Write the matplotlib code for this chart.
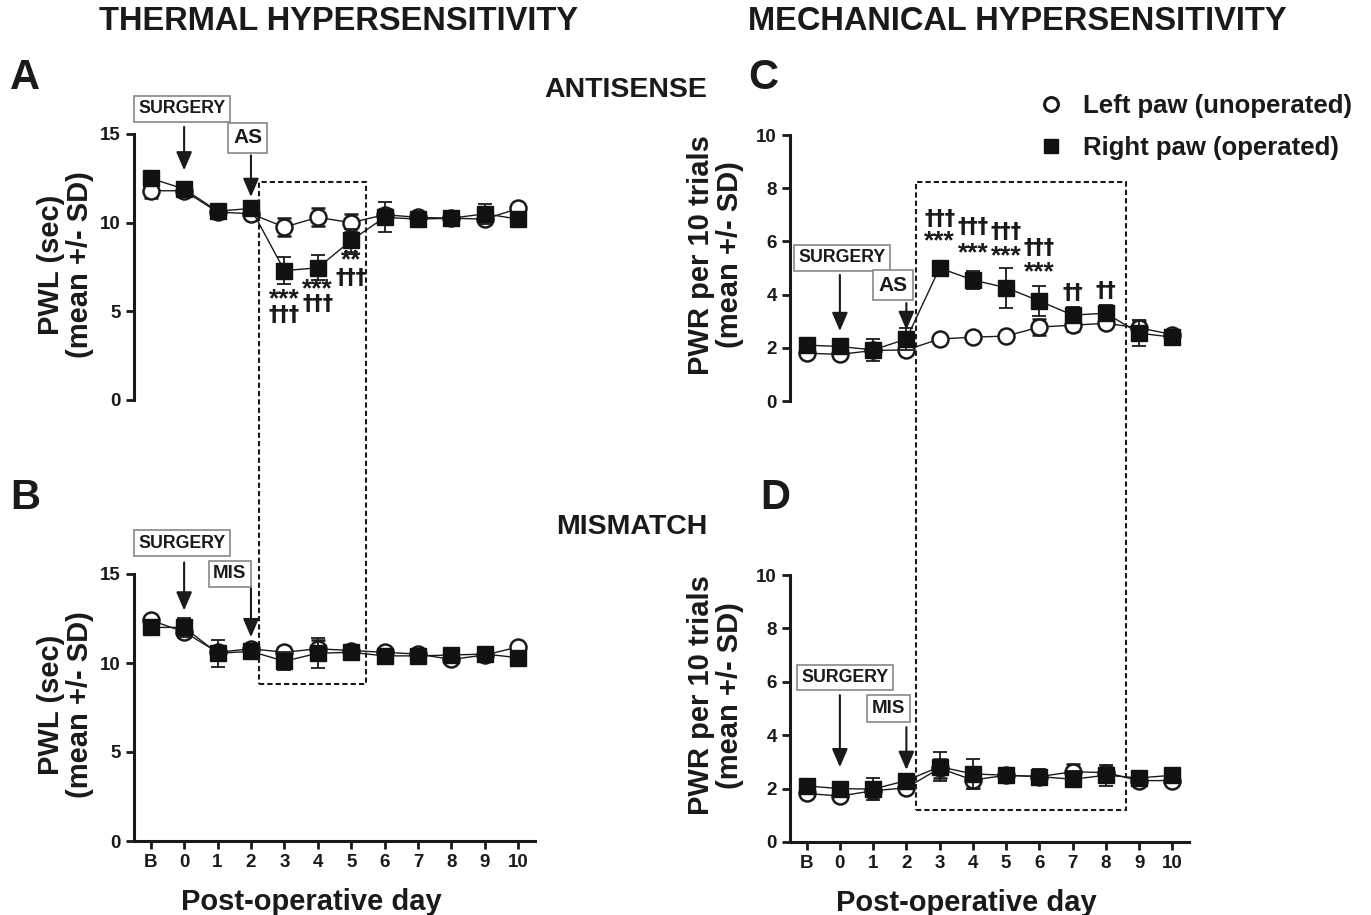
import matplotlib
matplotlib.use('Agg')
import matplotlib.pyplot as plt
from matplotlib.patches import Rectangle
from matplotlib.lines import Line2D
import numpy as np

plt.rcParams['font.family'] = ['Liberation Sans', 'DejaVu Sans']
plt.rcParams['font.weight'] = 'bold'

days = ['B', '0', '1', '2', '3', '4', '5', '6', '7', '8', '9', '10']

# Panel A - thermal, antisense
a_left = [11.8, 11.8, 10.6, 10.5, 9.75, 10.3, 10.0, 10.45, 10.3, 10.25, 10.2, 10.8]
a_left_sd = [0.4, 0.25, 0.2, 0.2, 0.5, 0.5, 0.5, 0.3, 0.3, 0.2, 0.3, 0.2]
a_right = [12.5, 11.9, 10.65, 10.8, 7.3, 7.45, 9.0, 10.3, 10.2, 10.25, 10.5, 10.2]
a_right_sd = [0.3, 0.3, 0.2, 0.3, 0.75, 0.7, 0.65, 0.85, 0.35, 0.2, 0.55, 0.2]

# Panel B - thermal, mismatch
b_left = [12.4, 11.75, 10.6, 10.8, 10.6, 10.8, 10.7, 10.6, 10.5, 10.2, 10.45, 10.9]
b_left_sd = [0.2, 0.3, 0.3, 0.2, 0.3, 0.5, 0.2, 0.2, 0.2, 0.2, 0.2, 0.2]
b_right = [12.0, 12.0, 10.55, 10.65, 10.1, 10.55, 10.6, 10.4, 10.4, 10.45, 10.5, 10.3]
b_right_sd = [0.3, 0.55, 0.75, 0.2, 0.5, 0.85, 0.2, 0.2, 0.2, 0.2, 0.2, 0.2]

# Panel C - mechanical, antisense
c_left = [1.8, 1.75, 1.9, 1.92, 2.33, 2.4, 2.44, 2.78, 2.85, 2.92, 2.75, 2.5]
c_left_sd = [0.1, 0.1, 0.1, 0.1, 0.1, 0.1, 0.1, 0.3, 0.2, 0.15, 0.25, 0.1]
c_right = [2.1, 2.05, 1.92, 2.33, 5.0, 4.55, 4.26, 3.76, 3.23, 3.3, 2.55, 2.4]
c_right_sd = [0.15, 0.15, 0.4, 0.4, 0.15, 0.35, 0.75, 0.55, 0.3, 0.3, 0.5, 0.15]

# Panel D - mechanical, mismatch
d_left = [1.82, 1.72, 1.92, 2.03, 2.76, 2.32, 2.5, 2.45, 2.63, 2.6, 2.3, 2.3]
d_left_sd = [0.1, 0.1, 0.1, 0.1, 0.35, 0.3, 0.15, 0.2, 0.3, 0.2, 0.15, 0.1]
d_right = [2.1, 2.0, 1.98, 2.3, 2.82, 2.55, 2.5, 2.45, 2.35, 2.5, 2.4, 2.5]
d_right_sd = [0.15, 0.15, 0.4, 0.2, 0.55, 0.55, 0.2, 0.3, 0.3, 0.4, 0.2, 0.15]

# significance marks: (day index, y, text)
a_marks = [(4, 5.7, '***'), (4, 4.8, '†††'), (5, 6.25, '***'), (5, 5.4, '†††'),
           (6, 7.85, '**'), (6, 6.9, '†††')]
c_marks = [(4, 6.85, '†††'), (4, 6.0, '***'), (5, 6.55, '†††'), (5, 5.55, '***'),
           (6, 6.35, '†††'), (6, 5.45, '***'), (7, 5.75, '†††'), (7, 4.85, '***'),
           (8, 4.05, '††'), (9, 4.15, '††')]

ink = '#1a1a1a'
W, H = 1371, 915
fig = plt.figure(figsize=(13.71, 9.15), dpi=100)

def px_axes(l, r, t, b):
    return fig.add_axes([l / W, 1 - b / H, (r - l) / W, (b - t) / H])

axA = px_axes(134, 535, 134, 400)
axB = px_axes(134, 535, 574, 841)
axC = px_axes(790, 1189, 135, 401)
axD = px_axes(790, 1189, 575, 842)

x = np.arange(len(days))

def draw(ax, left, lsd, right, rsd, ymax, ylabel, show_x):
    ax.errorbar(x, left, yerr=lsd, fmt='-o', color=ink, mfc='white', mec=ink,
                ms=11.5, mew=1.8, lw=1.0, ecolor=ink, elinewidth=1.3, capsize=5,
                capthick=1.3, zorder=3)
    ax.errorbar(x, right, yerr=rsd, fmt='-s', color=ink, mfc='#111111', mec='#111111',
                ms=11, lw=1.0, ecolor=ink, elinewidth=1.3, capsize=5,
                capthick=1.3, zorder=4)
    ax.set_xlim(-0.5, 11.5)
    ax.set_ylim(0, ymax)
    for s in ['top', 'right']:
        ax.spines[s].set_visible(False)
    ax.spines['left'].set_linewidth(2.2)
    ax.spines['bottom'].set_linewidth(2.2)
    ax.spines['left'].set_color(ink)
    ax.spines['bottom'].set_color(ink)
    ax.tick_params(width=2, length=6, color=ink, labelsize=13.5, labelcolor=ink)
    if show_x:
        ax.set_xticks(x)
        ax.set_xticklabels(days, fontweight='bold')
        ax.set_xlabel('Post-operative day', fontsize=21, fontweight='bold',
                      color=ink)
        ax.xaxis.set_label_coords(0.443, -0.175)
    else:
        ax.spines['bottom'].set_visible(False)
        ax.set_xticks([])
    for lab in ax.get_yticklabels():
        lab.set_fontweight('bold')
    ax.set_ylabel(ylabel, fontsize=21, fontweight='bold', color=ink,
                  linespacing=1.05)
    ax.patch.set_alpha(0)

draw(axA, a_left, a_left_sd, a_right, a_right_sd, 15, 'PWL (sec)\n(mean +/- SD)', False)
draw(axB, b_left, b_left_sd, b_right, b_right_sd, 15, 'PWL (sec)\n(mean +/- SD)', True)
draw(axC, c_left, c_left_sd, c_right, c_right_sd, 10, 'PWR per 10 trials\n(mean +/- SD)', False)
draw(axD, d_left, d_left_sd, d_right, d_right_sd, 10, 'PWR per 10 trials\n(mean +/- SD)', True)
for ax in (axA, axB):
    ax.set_yticks([0, 5, 10, 15])
    ax.yaxis.set_label_coords(-0.1, 0.51)
for ax in (axC, axD):
    ax.set_yticks([0, 2, 4, 6, 8, 10])
    ax.yaxis.set_label_coords(-0.115, 0.55)

for ax, marks in ((axA, a_marks), (axC, c_marks)):
    for i, y, t in marks:
        if '*' in t:
            ax.text(i, y, t, ha='center', va='center', fontsize=19,
                    fontweight='bold', color=ink, zorder=5)
        else:
            ax.text(i, y, t, ha='center', va='center', fontsize=15,
                    fontweight='bold', family=['DejaVu Sans'], color=ink, zorder=5)

box_style = dict(boxstyle='square,pad=0.25', fc='white', ec='#888888', lw=1.2)
arrow_style = dict(arrowstyle='-|>,head_length=0.7,head_width=0.3', color=ink,
                   lw=1.5, shrinkA=0, shrinkB=0, mutation_scale=16)

def label_arrow(ax, text, tx, ty, ax_x, y0, y1, size):
    ax.text(tx, ty, text, ha='center', va='center', fontsize=size,
            fontweight='bold', color=ink, bbox=box_style, clip_on=False, zorder=6)
    ax.annotate('', xy=(ax_x, y1), xytext=(ax_x, y0), arrowprops=arrow_style,
                annotation_clip=False)

label_arrow(axA, 'SURGERY', 0.93, 16.41, 1, 15.4, 12.95, 12.8)
label_arrow(axA, 'AS', 2.9, 14.78, 3, 13.8, 11.45, 15)
label_arrow(axB, 'SURGERY', 0.93, 16.74, 1, 15.65, 12.95, 12.8)
label_arrow(axB, 'MIS', 2.37, 15.0, 3, 14.3, 11.45, 13.5)
label_arrow(axC, 'SURGERY', 1.05, 5.38, 1, 4.74, 2.63, 12.8)
label_arrow(axC, 'AS', 2.6, 4.36, 3, 3.68, 2.67, 15)
label_arrow(axD, 'SURGERY', 1.14, 6.16, 1, 5.5, 2.8, 12.8)
label_arrow(axD, 'MIS', 2.47, 5.0, 3, 4.3, 2.7, 13.5)

# dashed boxes spanning both rows
inv = fig.transFigure.inverted()
def span_box(ax_top, ax_bot, x0, x1, ytop, ybot):
    p0 = inv.transform(ax_top.transData.transform((x0, ytop)))
    p1 = inv.transform(ax_bot.transData.transform((x1, ybot)))
    fig.add_artist(Rectangle((p0[0], p1[1]), p1[0] - p0[0], p0[1] - p1[1],
                             transform=fig.transFigure, fill=False, ec=ink,
                             lw=1.5, ls=(0, (2.5, 1.5)), zorder=2))

span_box(axA, axB, 3.23, 6.44, 12.3, 8.8)
span_box(axC, axD, 3.28, 9.6, 8.23, 1.2)

# titles and panel letters
fig.text(339 / W, 1 - 22 / H, 'THERMAL HYPERSENSITIVITY', ha='center', va='center',
         fontsize=23.5, fontweight='bold', color=ink)
fig.text(1017 / W, 1 - 22 / H, 'MECHANICAL HYPERSENSITIVITY', ha='center', va='center',
         fontsize=23.5, fontweight='bold', color=ink)
for t, px, py in (('A', 25, 78), ('B', 25, 498), ('C', 763, 78), ('D', 775, 498)):
    fig.text(px / W, 1 - py / H, t, ha='center', va='center', fontsize=30,
             fontweight='bold', color=ink)
fig.text(707 / W, 1 - 90 / H, 'ANTISENSE', ha='right', va='center', fontsize=20.5,
         fontweight='bold', color=ink)
fig.text(707 / W, 1 - 527 / H, 'MISMATCH', ha='right', va='center', fontsize=20.5,
         fontweight='bold', color=ink)

handles = [Line2D([], [], ls='none', marker='o', mfc='white', mec=ink, ms=10, mew=2.2),
           Line2D([], [], ls='none', marker='s', mfc='#111111', mec='#111111', ms=10)]
fig.legend(handles, ['Left paw (unoperated)', 'Right paw (operated)'],
           loc='upper left', bbox_to_anchor=(1038 / W, 1 - 94 / H), frameon=False,
           prop=dict(size=18.5, weight='bold'), labelcolor=ink, handletextpad=0.75,
           labelspacing=0.7, borderaxespad=0, borderpad=0, handlelength=1.0)

fig.savefig('out.png', dpi=100)
